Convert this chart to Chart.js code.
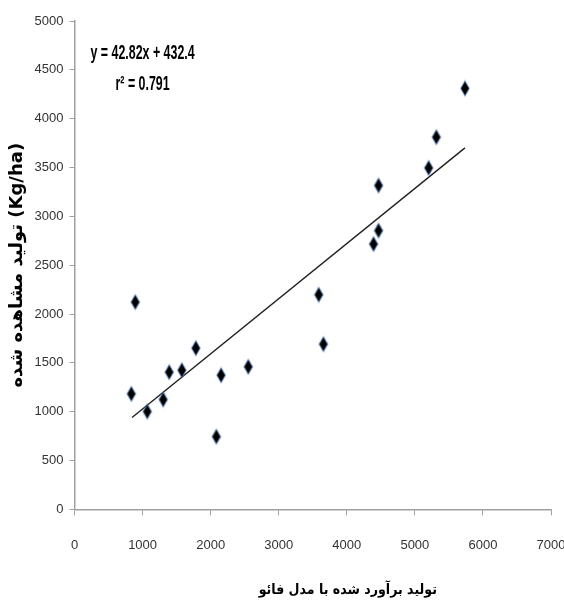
<!DOCTYPE html>
<html>
<head>
<meta charset="utf-8">
<script src="https://cdn.jsdelivr.net/npm/chart.js@4"></script>
<style>
  html, body { margin: 0; padding: 0; background: #fff; }
  #wrap { width: 564px; height: 605px; }
</style>
</head>
<body>
<div id="wrap"><canvas id="myChart" width="564" height="605"></canvas></div>
<script>
// مقادیر خوانده شده از نمودار
const estimated = [835, 893, 1069, 1303, 1391, 1577, 1782, 2084, 2153, 2553, 3588, 3656, 4393, 4466, 4466, 5203, 5316, 5736];
const observed = [1183, 2122, 1002, 1125, 1405, 1425, 1651, 745, 1374, 1460, 2198, 1692, 2717, 2854, 3316, 3496, 3811, 4310];

// trend line ends
const trendX = [845, 5736];
const trendY = [940, 3701];

const xTicks = [0, 1000, 2000, 3000, 4000, 5000, 6000, 7000];
const yTicks = [0, 500, 1000, 1500, 2000, 2500, 3000, 3500, 4000, 4500, 5000];

const equationText = 'y = 42.82x + 432.4';
const r2Text = 'r² = 0.791';
const xTitle = 'تولید برآورد شده با مدل فائو';
const yTitle = 'تولید مشاهده شده (Kg/ha)';

// tall diamond marker
function makeDiamond() {
    const c = document.createElement('canvas');
    c.width = 12; c.height = 18;
    const g = c.getContext('2d');
    g.beginPath();
    g.moveTo(6, 1.5);
    g.lineTo(10.3, 9);
    g.lineTo(6, 16.5);
    g.lineTo(1.7, 9);
    g.closePath();
    g.fillStyle = '#000';
    g.fill();
    g.strokeStyle = 'rgba(90,140,210,0.55)';
    g.lineWidth = 1.3;
    g.stroke();
    return c;
}

const points = estimated.map((x, i) => ({ x: x, y: observed[i] }));
const trend = trendX.map((x, i) => ({ x: x, y: trendY[i] }));

const textPlugin = {
    id: 'texts',
    afterDraw(chart) {
        const ctx = chart.ctx;
        const xs = chart.scales.x, ys = chart.scales.y;
        ctx.save();
        ctx.fillStyle = '#000';
        ctx.textAlign = 'center';
        ctx.textBaseline = 'middle';
        // condensed look for the equation
        const cx = xs.getPixelForValue(1000);
        ctx.font = 'bold 20px "Liberation Sans", sans-serif';
        ctx.save();
        ctx.translate(cx, 0);
        ctx.scale(0.62, 1);
        ctx.fillText(equationText, 0, ys.getPixelForValue(4670));
        ctx.fillText(r2Text, 0, ys.getPixelForValue(4355));
        ctx.restore();

        ctx.font = 'bold 14px "DejaVu Sans Condensed", "DejaVu Sans", sans-serif';
        ctx.direction = 'rtl';
        ctx.fillText(xTitle, (chart.chartArea.left + chart.chartArea.right) / 2 + 35, 590);
        ctx.restore();
    }
};

const axisColor = '#a0a0a0';
const tickFont = { family: '"Liberation Sans", sans-serif', size: 13 };

const ctx = document.getElementById('myChart').getContext('2d');
const myChart = new Chart(ctx, {
    type: 'scatter',
    data: {
        datasets: [
            {
                label: 'observed',
                data: points,
                pointStyle: makeDiamond(),
                pointRadius: 8,
                order: 1
            },
            {
                label: 'trend',
                type: 'line',
                data: trend,
                borderColor: '#222',
                borderWidth: 1.4,
                pointRadius: 0,
                fill: false,
                order: 2
            }
        ]
    },
    options: {
        responsive: false,
        animation: false,
        layout: { padding: { left: 5, top: 21, right: 0, bottom: 30 } },
        plugins: {
            legend: { display: false },
            tooltip: { enabled: false }
        },
        scales: {
            x: {
                type: 'linear',
                min: 0,
                max: 7000,
                afterBuildTicks: (s) => { s.ticks = xTicks.map(v => ({ value: v })); },
                // the big label gap should not eat the right margin
                afterFit: (s) => { s.paddingRight = 13; },
                ticks: { color: '#333', font: tickFont, padding: 22, maxRotation: 0, callback: (v) => String(v) },
                grid: { drawOnChartArea: false, drawTicks: true, tickLength: 6, color: axisColor },
                border: { display: true, color: axisColor, width: 1.5 }
            },
            y: {
                type: 'linear',
                min: 0,
                max: 5000,
                afterBuildTicks: (s) => { s.ticks = yTicks.map(v => ({ value: v })); },
                ticks: { color: '#333', font: tickFont, padding: 6, callback: (v) => String(v) },
                grid: { drawOnChartArea: false, drawTicks: true, tickLength: 5, color: axisColor },
                border: { display: true, color: axisColor, width: 1.5 },
                title: {
                    display: true,
                    text: yTitle,
                    color: '#000',
                    font: { family: '"DejaVu Sans", sans-serif', size: 18, weight: 'bold' },
                    padding: { top: 2, bottom: 0 }
                }
            }
        }
    },
    plugins: [textPlugin]
});
</script>
</body>
</html>
